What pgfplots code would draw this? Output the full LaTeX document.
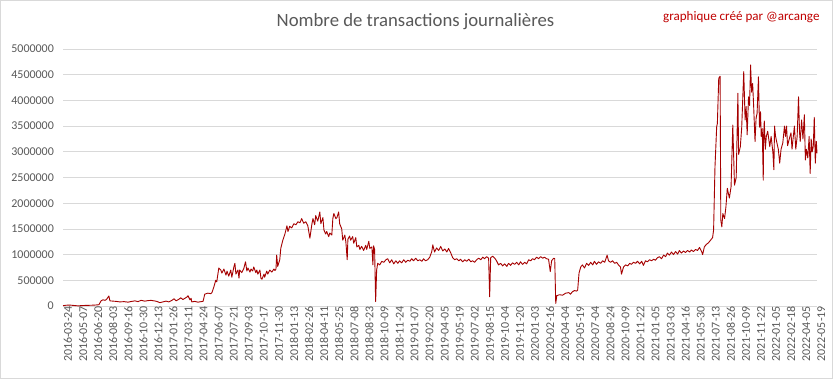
\documentclass[border=0pt]{standalone}
\usepackage{pgfplots}
\pgfplotsset{compat=1.18}
\usepackage{pgfplotstable}
\usepackage{fontspec}
\setmainfont{Carlito}
\definecolor{txtgray}{HTML}{595959}
\definecolor{gridgray}{HTML}{D9D9D9}
\definecolor{linered}{HTML}{A50000}
\definecolor{credred}{HTML}{C00000}
\pgfplotstableread{
x y
0 5000
9 15000
20 18000
32 10000
44 3000
55 8000
67 12000
79 14000
93 18000
105 25000
111 100000
117 120000
123 110000
128 135000
134 195000
137 100000
146 95000
155 90000
166 80000
178 85000
190 75000
201 90000
210 100000
219 85000
228 110000
239 95000
248 105000
257 110000
266 100000
274 90000
283 65000
292 80000
301 95000
309 80000
318 110000
324 140000
330 100000
338 130000
344 160000
350 125000
356 150000
362 175000
365 200000
371 120000
374 150000
376 80000
385 90000
394 75000
403 85000
409 90000
414 230000
423 250000
432 240000
435 260000
441 380000
446 500000
449 470000
455 740000
461 700000
464 640000
470 720000
476 600000
479 680000
484 580000
490 700000
493 560000
499 760000
502 830000
505 620000
511 700000
514 540000
516 700000
522 650000
528 730000
533 860000
537 680000
540 740000
546 660000
549 720000
554 680000
557 760000
563 650000
566 700000
569 620000
575 700000
578 540000
581 520000
587 620000
589 560000
595 680000
598 620000
604 700000
610 660000
616 720000
619 690000
622 720000
624 990000
627 770000
633 900000
636 1120000
642 1280000
648 1400000
654 1560000
657 1450000
662 1550000
668 1520000
674 1600000
680 1580000
686 1640000
692 1620000
697 1700000
703 1610000
709 1640000
715 1560000
721 1320000
727 1600000
730 1700000
735 1580000
738 1760000
744 1650000
750 1830000
753 1600000
759 1720000
762 1480000
767 1400000
770 1450000
776 1350000
779 1420000
785 1380000
788 1700000
791 1800000
797 1700000
800 1720000
805 1830000
808 1600000
814 1500000
817 1280000
823 1380000
826 1250000
830 900000
832 1300000
837 1360000
840 1280000
846 1350000
849 1220000
855 1330000
858 1150000
864 1180000
867 1100000
872 1160000
878 1080000
884 1180000
887 1100000
893 1260000
896 1120000
902 1150000
905 800000
907 1170000
910 1100000
913 85000
916 700000
919 830000
925 800000
931 870000
937 850000
943 900000
948 920000
954 840000
960 900000
966 820000
972 880000
978 830000
983 880000
989 840000
995 900000
1001 850000
1007 890000
1013 870000
1018 920000
1024 880000
1030 930000
1036 880000
1042 900000
1048 870000
1053 920000
1059 880000
1065 900000
1071 950000
1077 1060000
1080 1190000
1085 1050000
1091 1130000
1097 1080000
1103 1160000
1109 1070000
1115 1110000
1121 1050000
1126 1120000
1132 1040000
1138 940000
1144 900000
1150 920000
1156 880000
1161 910000
1167 860000
1173 900000
1179 870000
1185 910000
1191 860000
1196 880000
1202 850000
1208 900000
1214 930000
1220 900000
1226 950000
1231 920000
1237 960000
1243 930000
1246 180000
1249 940000
1255 970000
1261 930000
1266 880000
1272 800000
1278 830000
1284 780000
1290 820000
1296 770000
1301 830000
1307 790000
1313 840000
1319 810000
1325 850000
1331 800000
1336 860000
1342 810000
1348 850000
1354 820000
1360 900000
1366 880000
1371 920000
1377 900000
1383 950000
1389 920000
1395 960000
1401 930000
1406 950000
1412 920000
1418 910000
1423 670000
1427 880000
1433 930000
1436 920000
1439 50000
1442 200000
1450 220000
1459 210000
1468 250000
1477 260000
1482 230000
1488 280000
1494 300000
1500 290000
1503 310000
1507 640000
1512 760000
1517 800000
1523 740000
1529 830000
1535 790000
1541 850000
1547 800000
1552 870000
1558 810000
1564 860000
1570 830000
1576 880000
1582 850000
1589 990000
1593 880000
1599 850000
1605 880000
1611 830000
1617 850000
1622 800000
1628 760000
1631 620000
1637 760000
1643 800000
1649 780000
1655 830000
1660 810000
1666 850000
1672 830000
1678 870000
1684 820000
1690 870000
1695 790000
1701 880000
1707 860000
1713 900000
1719 880000
1725 910000
1730 890000
1736 940000
1742 960000
1748 920000
1754 990000
1760 960000
1765 1030000
1771 990000
1777 1050000
1783 1000000
1789 1060000
1795 1010000
1800 1080000
1806 1030000
1812 1070000
1818 1040000
1824 1080000
1830 1050000
1835 1090000
1841 1060000
1847 1100000
1853 1080000
1859 1140000
1865 1060000
1868 1000000
1873 1150000
1879 1200000
1885 1230000
1891 1280000
1897 1330000
1900 1480000
1904 2700000
1909 3490000
1911 3550000
1915 4430000
1919 4470000
1921 1670000
1924 1540000
1927 1800000
1932 1700000
1936 1930000
1940 2290000
1946 2100000
1951 2320000
1956 3520000
1961 2350000
1966 2500000
1971 4140000
1973 2950000
1978 3100000
1982 3460000
1988 4560000
1992 3620000
1995 3880000
1998 3330000
2002 4070000
2005 3900000
2008 4690000
2011 4160000
2014 4330000
2017 3880000
2021 3200000
2024 3650000
2027 3750000
2031 4460000
2034 3480000
2037 3780000
2039 3300000
2042 3450000
2045 2450000
2046 3300000
2048 3600000
2051 3050000
2054 3300000
2058 3400000
2061 3250000
2064 3100000
2068 3300000
2073 3000000
2076 2650000
2078 3500000
2081 3300000
2085 3170000
2089 3050000
2093 2780000
2097 3050000
2102 3170000
2107 3500000
2110 3300000
2113 3500000
2116 3120000
2121 3250000
2126 3370000
2129 3050000
2132 3250000
2136 3500000
2140 3050000
2144 3300000
2148 4070000
2151 3370000
2153 3200000
2157 3620000
2161 3250000
2165 3720000
2168 2840000
2171 3050000
2175 2880000
2179 3300000
2182 2580000
2185 3250000
2188 3000000
2191 3100000
2194 3670000
2197 2780000
2200 3200000
2202 2970000
}\datatable
\begin{document}
\begin{tikzpicture}[x=1bp,y=1bp]
\useasboundingbox (0,0) rectangle (833,379);
\fill[white] (0,0) rectangle (833,379);
\draw[gridgray, line width=0.8bp] (0.5,0.5) rectangle (832.5,378.5);
\begin{axis}[
  at={(63bp,73bp)}, anchor=south west,
  scale only axis, width=754bp, height=257bp,
  xmin=0, xmax=2202, ymin=0, ymax=5000000,
  axis line style={draw=none},
  axis x line*=bottom,
  x axis line style={draw=gridgray, line width=0.8bp},
  ytick={0,500000,...,5000000},
  ymajorgrids, grid style={gridgray, line width=0.8bp},
  major tick length=0pt,
  scaled y ticks=false,
  yticklabel style={font=\fontsize{12}{14}\selectfont, text=txtgray, /pgf/number format/fixed, /pgf/number format/1000 sep={}, /pgf/number format/assume math mode=true, anchor=east, inner sep=0pt, xshift=-9bp},
  xtick={0,44,...,2200},
  xticklabels={2016-03-24,2016-05-07,2016-06-20,2016-08-03,2016-09-16,2016-10-30,2016-12-13,2017-01-26,2017-03-11,2017-04-24,2017-06-07,2017-07-21,2017-09-03,2017-10-17,2017-11-30,2018-01-13,2018-02-26,2018-04-11,2018-05-25,2018-07-08,2018-08-23,2018-10-09,2018-11-24,2019-01-07,2019-02-20,2019-04-05,2019-05-19,2019-07-02,2019-08-15,2019-10-04,2019-11-20,2020-01-03,2020-02-16,2020-04-04,2020-05-19,2020-07-04,2020-08-24,2020-10-09,2020-11-22,2021-01-05,2021-03-03,2021-04-16,2021-05-30,2021-07-13,2021-08-26,2021-10-09,2021-11-22,2022-01-05,2022-02-18,2022-04-05,2022-05-19},
  xticklabel style={font=\fontsize{12}{14}\selectfont, text=txtgray, rotate=90, anchor=east, inner sep=0pt, yshift=-5bp},
  clip=false,
]
\addplot[linered, line width=0.9bp, line join=round] table[x=x, y=y] {\datatable};
\end{axis}
\node[text=txtgray, font=\fontsize{18.8}{22}\selectfont] at (415.5,357) {Nombre de transactions journalières};
\node[text=credred, font=\fontsize{13.1}{15}\selectfont, anchor=east] at (823,362) {graphique créé par @arcange};
\end{tikzpicture}
\end{document}
